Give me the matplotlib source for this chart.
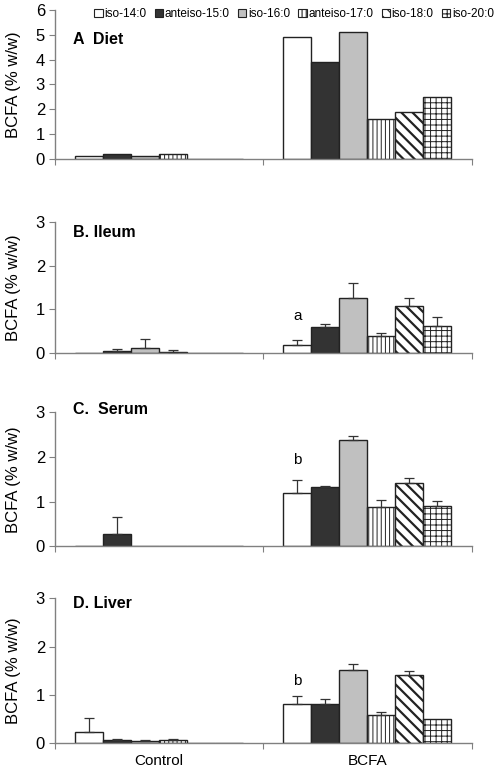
import numpy as np
import matplotlib.pyplot as plt
from matplotlib.patches import Patch

plt.rcParams["font.family"] = ["Liberation Sans", "DejaVu Sans"]

groups = ["Control", "BCFA"]
fatty_acids = ["iso-14:0", "anteiso-15:0", "iso-16:0", "anteiso-17:0", "iso-18:0", "iso-20:0"]
colors = ["white", "#333333", "#c0c0c0", "white", "white", "white"]
hatches = [None, None, None, "||||", "\\\\\\", "+++"]
hatch_lw = [0.8, 0.8, 0.8, 0.7, 1.6, 0.7]

# means per fatty acid: [Control, BCFA]
diet = [[0.1, 4.9], [0.2, 3.9], [0.1, 5.1], [0.2, 1.6], [0.0, 1.9], [0.0, 2.5]]

ileum = [[0.0, 0.18], [0.04, 0.60], [0.11, 1.25], [0.02, 0.38], [0.0, 1.08], [0.0, 0.61]]
ileum_err = [[0.0, 0.12], [0.05, 0.05], [0.21, 0.36], [0.03, 0.07], [0.0, 0.17], [0.0, 0.20]]

serum = [[0.0, 1.19], [0.28, 1.32], [0.0, 2.39], [0.0, 0.87], [0.0, 1.42], [0.0, 0.90]]
serum_err = [[0.0, 0.30], [0.38, 0.02], [0.0, 0.07], [0.0, 0.16], [0.0, 0.11], [0.0, 0.11]]

liver = [[0.23, 0.81], [0.06, 0.81], [0.05, 1.52], [0.07, 0.58], [0.0, 1.41], [0.0, 0.50]]
liver_err = [[0.29, 0.17], [0.02, 0.10], [0.01, 0.11], [0.01, 0.06], [0.0, 0.09], [0.0, 0.0]]

panels = [
    ("A  Diet", diet, None, 6, (0.043, 0.80), None),
    ("B. Ileum", ileum, ileum_err, 3, (0.043, 0.92), ("a", 0.85)),
    ("C.  Serum", serum, serum_err, 3, (0.043, 1.02), ("b", 1.94)),
    ("D. Liver", liver, liver_err, 3, (0.043, 0.965), ("b", 1.29)),
]
# axes boxes [left, bottom, width, height] in figure fractions
boxes = [
    [0.110, 0.795, 0.837, 0.192],
    [0.110, 0.545, 0.837, 0.168],
    [0.110, 0.295, 0.837, 0.173],
    [0.110, 0.041, 0.837, 0.187],
]

fig = plt.figure(figsize=(4.98, 7.75), dpi=100)
width = 0.806 / 6
x = np.arange(len(groups))
spine_col = "#808080"

for (title, vals, errs, ymax, tpos, note), box in zip(panels, boxes):
    ax = fig.add_axes(box)
    for i, fa in enumerate(fatty_acids):
        pos = x - 0.403 + width * (i + 0.5)
        plt.rcParams["hatch.linewidth"] = hatch_lw[i]
        ax.bar(pos, vals[i], width, color=colors[i], edgecolor="#222222",
               linewidth=1.0, hatch=hatches[i], zorder=2)
        if errs is not None:
            e = np.array(errs[i])
            show = e > 0
            if show.any():
                ax.errorbar(pos[show], np.array(vals[i])[show],
                            yerr=[np.zeros(show.sum()), e[show]],
                            fmt="none", ecolor="#333333", elinewidth=0.9,
                            capsize=3.5, capthick=0.9, zorder=3)
    if note is not None:
        ax.text(1 - 0.403 + width * 0.5, note[1], note[0], ha="center",
                va="center", fontsize=11)
    ax.text(tpos[0], tpos[1], title, transform=ax.transAxes, fontsize=11.5,
            fontweight="bold", va="center", ha="left")
    ax.set_xlim(-0.5, 1.5)
    ax.set_ylim(0, ymax)
    ax.set_yticks(range(0, ymax + 1))
    ax.set_xticks([-0.5, 0.5, 1.5])
    ax.set_xticklabels([])
    ax.set_ylabel("BCFA (% w/w)", fontsize=12)
    ax.yaxis.set_label_coords(-0.08, 0.5)
    for s in ["top", "right"]:
        ax.spines[s].set_visible(False)
    for s in ["left", "bottom"]:
        ax.spines[s].set_color(spine_col)
        ax.spines[s].set_linewidth(1.0)
    ax.tick_params(axis="both", colors=spine_col, labelcolor="black",
                   labelsize=12, length=4, direction="out")
    ax.tick_params(axis="y", pad=3)

# group labels on the bottom panel only
ax.set_xticks(x, minor=True)
ax.set_xticklabels(groups, minor=True)
ax.tick_params(axis="x", which="minor", length=0, labelsize=11, pad=8)

plt.rcParams["hatch.linewidth"] = 0.8
handles = [Patch(facecolor=colors[i], edgecolor="#222222", hatch=hatches[i],
                 linewidth=0.8, label=fa) for i, fa in enumerate(fatty_acids)]
fig.legend(handles=handles, loc="center right", bbox_to_anchor=(0.992, 0.982),
           ncol=6, frameon=False, fontsize=8.5, handlelength=0.7,
           handleheight=0.7, handletextpad=0.15, columnspacing=0.7,
           borderpad=0, borderaxespad=0)

fig.savefig("out.png", dpi=100)
